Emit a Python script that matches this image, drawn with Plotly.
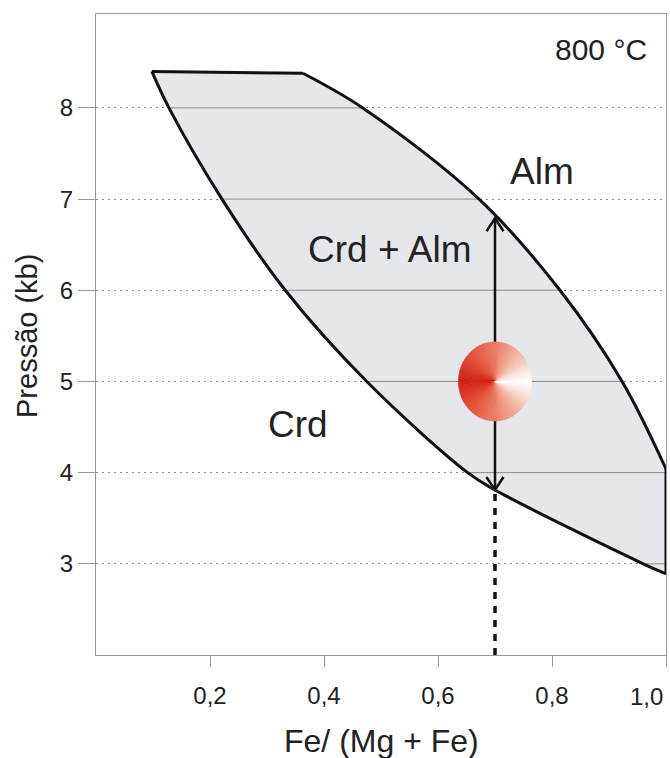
import numpy as np
import plotly.graph_objects as go

# ---------------- data ----------------
x_ticks = [0.2, 0.4, 0.6, 0.8, 1.0]
x_tick_labels = ["0,2", "0,4", "0,6", "0,8", "1,0"]
p_ticks = [3, 4, 5, 6, 7, 8]

# field boundaries (Fe/(Mg+Fe), P kb)
top_x = [0.098, 0.363]
top_p = [8.40, 8.38]
alm_x = [0.363, 0.468, 0.672, 0.814, 0.923, 1.0]
alm_p = [8.38, 8.00, 7.00, 6.00, 5.00, 4.04]
right_x = [1.0, 1.0]
right_p = [4.04, 2.89]
crd_x = [0.098, 0.128, 0.221, 0.332, 0.475, 0.652, 0.700, 0.960, 1.0]
crd_p = [8.40, 8.00, 7.00, 6.00, 5.00, 4.00, 3.81, 3.00, 2.89]

sample_x = 0.70
arrow_p = [3.81, 6.79]
sample_p = 5.0

labels = ["800 °C", "Alm", "Crd + Alm", "Crd"]
label_x = [0.886, 0.782, 0.515, 0.354]
label_p = [8.636, 7.30, 6.443, 4.524]
label_size = [30, 37, 37, 37]

# ---------------- geometry ----------------
W, H = 670, 758
ML, MR, MT, MB = 96, 4, 14, 103
XR = [0.0, 1.0]
YR = [2.0, 9.03]
PW, PH = W - ML - MR, H - MT - MB
kx = PW / (XR[1] - XR[0])
ky = PH / (YR[1] - YR[0])

FONT = "Liberation Sans, Arial, sans-serif"
TXT = "#222222"
SMOOTH = 1.0
TICK_SIZE = 24

fig = go.Figure()

# fill of Crd + Alm field (straight closures give sharp corners)
fig.add_trace(go.Scatter(x=crd_x, y=crd_p, mode="lines",
                         line=dict(width=0, shape="spline", smoothing=SMOOTH), hoverinfo="skip"))
fig.add_trace(go.Scatter(x=alm_x, y=alm_p, mode="lines",
                         line=dict(width=0, shape="spline", smoothing=SMOOTH),
                         fill="tonexty", fillcolor="#e5e7ea", hoverinfo="skip"))

# solid grid segments inside the field
seg_x, seg_y = [], []
crd_x_r = crd_x[::-1]
crd_p_r = crd_p[::-1]
alm_x_r = alm_x[::-1]
alm_p_r = alm_p[::-1]
for p in p_ticks:
    xl = float(np.interp(p, crd_p_r, crd_x_r))
    xr = float(np.interp(p, alm_p_r, alm_x_r)) if p >= alm_p[-1] else 1.0
    seg_x += [xl, xr, None]
    seg_y += [p, p, None]
fig.add_trace(go.Scatter(x=seg_x, y=seg_y, mode="lines", line=dict(color="#8a8a8a", width=1),
                         hoverinfo="skip"))

# outlines
OL = dict(color="#111111", width=3)
fig.add_trace(go.Scatter(x=crd_x, y=crd_p, mode="lines", line=dict(OL, shape="spline", smoothing=SMOOTH)))
fig.add_trace(go.Scatter(x=alm_x, y=alm_p, mode="lines", line=dict(OL, shape="spline", smoothing=SMOOTH)))
fig.add_trace(go.Scatter(x=top_x, y=top_p, mode="lines", line=OL))
fig.add_trace(go.Scatter(x=right_x, y=right_p, mode="lines", line=OL))

# dashed projection
fig.add_trace(go.Scatter(x=[sample_x, sample_x], y=[YR[0], arrow_p[0]], mode="lines",
                         line=dict(color="#111111", width=3.5, dash="7px,7px")))
# double arrow
fig.add_trace(go.Scatter(x=[sample_x, sample_x], y=arrow_p, mode="lines",
                         line=dict(color="#111111", width=2.5)))
ah_dx = 8.5 / kx
ah_dy = 13 / ky
hx, hy = [], []
for tip, sgn in [(arrow_p[1], -1), (arrow_p[0], 1)]:
    hx += [sample_x - ah_dx, sample_x, sample_x + ah_dx, None]
    hy += [tip + sgn * ah_dy, tip, tip + sgn * ah_dy, None]
fig.add_trace(go.Scatter(x=hx, y=hy, mode="lines", line=dict(color="#111111", width=2.5)))

# conic-gradient disc
rx = 36.5 / kx
ry = 39.5 / ky
stops_t = [0.0, 0.25, 0.5, 0.75, 0.92, 1.0]
stops_r = [210, 226, 236, 245, 252, 255]
stops_g = [30, 78, 125, 185, 235, 255]
stops_b = [18, 52, 100, 165, 228, 255]
n = 144
shapes = []
for i in range(n):
    a0 = 2 * np.pi * i / n
    a1 = 2 * np.pi * (i + 1) / n
    am = 0.5 * (a0 + a1)
    t = abs(am - np.pi) / np.pi
    r = int(round(np.interp(t, stops_t, stops_r)))
    g = int(round(np.interp(t, stops_t, stops_g)))
    b = int(round(np.interp(t, stops_t, stops_b)))
    col = f"rgb({r},{g},{b})"
    x0 = sample_x + rx * np.cos(a0); y0 = sample_p + ry * np.sin(a0)
    x1 = sample_x + rx * np.cos(a1); y1 = sample_p + ry * np.sin(a1)
    shapes.append(dict(type="path", xref="x", yref="y", layer="above",
                       path=f"M {sample_x},{sample_p} L {x0},{y0} L {x1},{y1} Z",
                       fillcolor=col, line=dict(color=col, width=0.6)))

annotations = []
for s, x, p, fs in zip(labels, label_x, label_p, label_size):
    annotations.append(dict(text=s, x=x, y=p, xref="x", yref="y", showarrow=False,
                            xanchor="center", yanchor="middle",
                            font=dict(family=FONT, size=fs, color=TXT)))
# last x tick label kept inside the page (as in the original)
annotations.append(dict(text=x_tick_labels[-1], x=x_ticks[-1], xref="x", xanchor="right", xshift=-1,
                        y=(H - MB - 696) / PH, yref="paper", yanchor="middle", showarrow=False,
                        font=dict(family=FONT, size=TICK_SIZE, color=TXT)))
annotations.append(dict(text="Fe/ (Mg + Fe)", x=0.5, y=(H - MB - 741) / PH,
                        xref="paper", yref="paper", showarrow=False, xanchor="center", yanchor="middle",
                        font=dict(family=FONT, size=32, color=TXT)))
annotations.append(dict(text="Pressão (kb)", x=(27 - ML) / PW, y=(H - MB - 336) / PH,
                        xref="paper", yref="paper", showarrow=False, xanchor="center", yanchor="middle",
                        textangle=-90, font=dict(family=FONT, size=29, color=TXT)))

fig.update_layout(width=W, height=H, autosize=False, margin=dict(l=ML, r=MR, t=MT, b=MB, autoexpand=False),
                  plot_bgcolor="white", paper_bgcolor="white", showlegend=False,
                  font=dict(family=FONT, color=TXT), shapes=shapes, annotations=annotations)
fig.update_xaxes(range=XR, tickvals=x_ticks, ticktext=x_tick_labels[:-1] + [""], ticks="outside", ticklen=11,
                 tickcolor="#999999", showline=True, linecolor="#999999", linewidth=1, mirror=True,
                 showgrid=False, zeroline=False, automargin=False, ticklabelstandoff=8,
                 tickfont=dict(family=FONT, size=TICK_SIZE, color=TXT))
fig.update_yaxes(range=YR, tickvals=p_ticks, ticks="outside", ticklen=17, tickcolor="#999999",
                 showline=True, linecolor="#999999", linewidth=1, mirror=True, automargin=False,
                 showgrid=True, gridcolor="#8a8a8a", gridwidth=1, griddash="2px,4px",
                 zeroline=False, tickfont=dict(family=FONT, size=TICK_SIZE, color=TXT))

fig.write_html("out.html", config={"displayModeBar": False},
               post_script="document.body.style.margin='0';document.body.style.overflow='hidden';")
